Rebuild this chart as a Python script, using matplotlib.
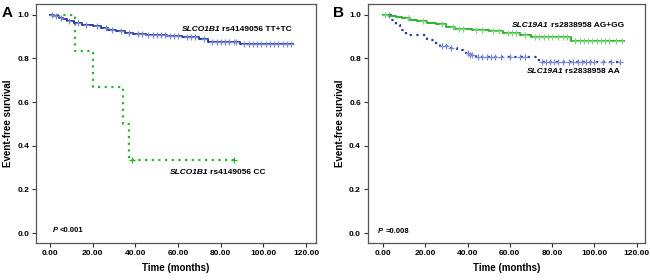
import numpy as np
import matplotlib.pyplot as plt

plt.rcParams['font.family'] = ['Liberation Sans', 'DejaVu Sans']
plt.rcParams['font.weight'] = 'bold'

# --- DATA ---
# Panel A: SLCO1B1 rs4149056
a_tt_times = [0, 2, 4, 6, 8, 11, 15, 20, 24, 27, 31, 35, 39, 45, 55, 62, 70, 74, 89]
a_tt_surv = [1.0, 0.993, 0.987, 0.981, 0.972, 0.962, 0.955, 0.947, 0.939, 0.931,
             0.925, 0.919, 0.911, 0.908, 0.903, 0.898, 0.888, 0.877, 0.867]
a_tt_end = 114
a_tt_cens = [1, 3, 5, 9, 13, 17, 22, 26, 29, 33, 37, 41, 43, 46, 48, 50, 52, 54, 56,
             58, 60, 64, 66, 68, 72, 76, 78, 80, 82, 84, 86, 87, 91, 93, 95, 97, 99,
             101, 103, 105, 107, 109, 111, 113]

a_cc_times = [0, 11.6, 20.3, 34.2, 37.2]
a_cc_surv = [1.0, 0.833, 0.667, 0.5, 0.333]
a_cc_end = 86
a_cc_cens = [38.5, 86]

# Panel B: SLC19A1 rs2838958
b_ag_times = [0, 3, 6, 9, 13, 16, 21, 25, 30, 34, 42, 50, 57, 65, 70, 89]
b_ag_surv = [1.0, 0.995, 0.99, 0.984, 0.978, 0.97, 0.964, 0.957, 0.946, 0.934,
             0.93, 0.925, 0.918, 0.908, 0.898, 0.881]
b_ag_end = 114
b_ag_cens = [1, 12, 19, 28, 33, 36, 38, 44, 47, 52, 55, 59, 61, 63, 67, 72, 74, 76,
             78, 80, 83, 85, 87, 91, 93, 95, 97, 99, 101, 103, 105, 107, 110, 113]

b_aa_times = [0, 4, 6, 8, 11, 21, 24, 27, 31, 35, 38, 41, 44, 74]
b_aa_surv = [1.0, 0.977, 0.954, 0.931, 0.908, 0.885, 0.87, 0.855, 0.847, 0.839,
             0.824, 0.815, 0.806, 0.786]
b_aa_end = 112
b_aa_cens = [3, 28, 30, 32, 40, 41, 42, 45, 47, 49, 51, 53, 56, 60, 65, 67, 75, 77,
             79, 81, 83, 85, 88, 90, 92, 94, 96, 98, 100, 104, 108, 112]

xticks = [0, 20, 40, 60, 80, 100, 120]
yticks = [0.0, 0.2, 0.4, 0.6, 0.8, 1.0]

BLUE = '#2a3b9c'
BLUE_LIGHT = '#7d8bd0'
GREEN = '#2cb42c'
GREEN_LIGHT = '#7fd47f'
DOTS = (0, (1, 2))


def draw_curve(ax, times, surv, end, cens, color, mcolor, ls, lw):
    t = list(times) + [end]
    s = list(surv) + [surv[-1]]
    ax.step(t, s, where='post', color=color, linestyle=ls, linewidth=lw)
    idx = np.searchsorted(times, cens, side='right') - 1
    cy = np.array(surv)[idx]
    ax.plot(cens, cy, linestyle='none', marker='+', color=mcolor,
            markersize=4, markeredgewidth=0.9)


def label(ax, x, y, ital, rest, size=6):
    # italic bold gene name followed by upright bold text
    t1 = ax.text(x, y, ital, fontsize=size, fontweight='bold', fontstyle='italic',
                 va='baseline', ha='left')
    ax.annotate(rest, xy=(1, 0), xycoords=t1, xytext=(1.5, 0), textcoords='offset points',
                fontsize=size, fontweight='bold', va='bottom', ha='left')


def style_axes(ax, xlim):
    ax.set_xlim(*xlim)
    ax.set_ylim(-0.046, 1.05)
    ax.set_xticks(xticks)
    ax.set_xticklabels([f'{v:.2f}' for v in xticks])
    ax.set_yticks(yticks)
    ax.set_yticklabels([f'{v:.1f}' for v in yticks])
    ax.tick_params(axis='both', labelsize=6, length=3, width=0.8, color='#333333', pad=2)
    for lab in ax.get_xticklabels() + ax.get_yticklabels():
        lab.set_fontweight('bold')
    for sp in ax.spines.values():
        sp.set_color('#555555')
        sp.set_linewidth(0.9)
    ax.set_xlabel('Time (months)', fontsize=7, fontweight='bold', labelpad=4)
    ax.set_ylabel('Event-free survival', fontsize=7, fontweight='bold', labelpad=3)


fig = plt.figure(figsize=(6.5, 2.8), dpi=100)
axA = fig.add_axes([0.0554, 0.132, 0.431, 0.854])
axB = fig.add_axes([0.566, 0.132, 0.426, 0.854])

# Panel A
draw_curve(axA, a_cc_times, a_cc_surv, a_cc_end, a_cc_cens, GREEN, GREEN, DOTS, 1.6)
draw_curve(axA, a_tt_times, a_tt_surv, a_tt_end, a_tt_cens, BLUE, BLUE_LIGHT, '-', 1.4)
style_axes(axA, (-6.6, 124.7))
label(axA, 61.7, 0.925, 'SLCO1B1', 'rs4149056 TT+TC')
label(axA, 56, 0.27, 'SLCO1B1', 'rs4149056 CC')
label(axA, 1.2, 0.003, 'P', '<0.001', size=5.5)

# Panel B
draw_curve(axB, b_aa_times, b_aa_surv, b_aa_end, b_aa_cens, BLUE, BLUE_LIGHT, DOTS, 1.6)
draw_curve(axB, b_ag_times, b_ag_surv, b_ag_end, b_ag_cens, GREEN, GREEN_LIGHT, '-', 1.4)
style_axes(axB, (-7.1, 123.8))
label(axB, 61, 0.946, 'SLC19A1', 'rs2838958 AG+GG')
label(axB, 67.9, 0.732, 'SLC19A1', 'rs2838958 AA')
label(axB, -2.2, 0.0, 'P', '=0.008', size=5.5)

fig.text(0.003, 0.955, 'A', fontsize=11, fontweight='bold', ha='left', va='center')
fig.text(0.512, 0.955, 'B', fontsize=11, fontweight='bold', ha='left', va='center')

fig.savefig('out.png', dpi=100)
